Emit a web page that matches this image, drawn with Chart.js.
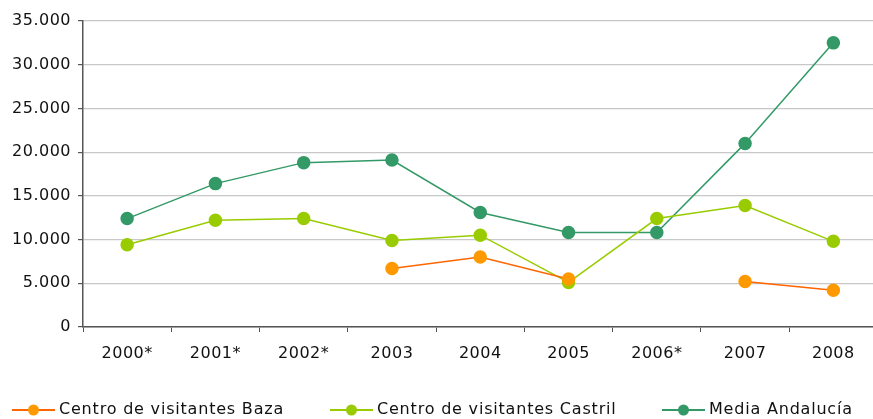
<!DOCTYPE html>
<html>
<head>
<meta charset="utf-8">
<script src="https://cdn.jsdelivr.net/npm/chart.js@4"></script>
<style>
  html, body { margin: 0; padding: 0; background: #fff; overflow: hidden; }
  #wrap { position: relative; width: 885px; height: 419px; }
</style>
</head>
<body>
<div id="wrap"><canvas id="graph"></canvas></div>
<script>
const years = ['2000*', '2001*', '2002*', '2003', '2004', '2005', '2006*', '2007', '2008'];
const baza = [null, null, null, 6700, 8000, 5500, null, 5200, 4200];
const castril = [9400, 12200, 12400, 9900, 10500, 5100, 12400, 13900, 9800];
const andalucia = [12400, 16400, 18800, 19100, 13100, 10800, 10800, 21000, 32500];
const yTicks = [0, 5000, 10000, 15000, 20000, 25000, 30000, 35000];

const fontFamily = '"DejaVu Sans", Verdana, sans-serif';
const font = { family: fontFamily, size: 16 };

function series(label, data, line, dot) {
    return {
        label: label,
        data: data,
        borderColor: line,
        backgroundColor: dot,
        pointBackgroundColor: dot,
        pointBorderColor: dot,
        pointRadius: 6,
        pointHoverRadius: 6,
        borderWidth: 1.5,
        spanGaps: false,
        tension: 0
    };
}

// a bit of tracking on all the text, like Verdana
const spacing = {
    id: 'spacing',
    beforeLayout(chart) { chart.ctx.letterSpacing = '0.5px'; },
    beforeDraw(chart) { chart.ctx.letterSpacing = '0.5px'; }
};

// legend along the bottom: short line with a dot, then the label
const legendX = [12, 330, 662];
const bottomLegend = {
    id: 'bottomLegend',
    afterDraw(chart) {
        const ctx = chart.ctx;
        const y = 410;
        ctx.save();
        ctx.font = '16px ' + fontFamily;
        ctx.letterSpacing = '0.8px';
        ctx.textBaseline = 'middle';
        chart.data.datasets.forEach((ds, i) => {
            const x = legendX[i];
            ctx.strokeStyle = ds.borderColor;
            ctx.lineWidth = 2;
            ctx.beginPath();
            ctx.moveTo(x, y);
            ctx.lineTo(x + 43, y);
            ctx.stroke();
            ctx.fillStyle = ds.pointBackgroundColor;
            ctx.beginPath();
            ctx.arc(x + 21.5, y, 5.5, 0, Math.PI * 2);
            ctx.fill();
            ctx.fillStyle = '#111';
            ctx.fillText(ds.label, x + 47, y);
        });
        ctx.restore();
    }
};

let myChart = new Chart(document.getElementById('graph'), {
    type: 'line',
    data: {
        labels: years,
        datasets: [
            series('Centro de visitantes Baza', baza, '#FF6600', '#FF9900'),
            series('Centro de visitantes Castril', castril, '#99CC00', '#99CC00'),
            series('Media Andalucía', andalucia, '#339966', '#339966')
        ]
    },
    plugins: [spacing, bottomLegend],
    options: {
        responsive: true,
        maintainAspectRatio: false,
        animation: false,
        layout: { padding: { left: 0, top: 21, right: 0, bottom: 0 } },
        scales: {
            x: {
                offset: true,
                grid: { display: true, drawOnChartArea: false, drawTicks: true, tickLength: 5, color: '#555', offset: true },
                border: { color: '#555', width: 1.5 },
                ticks: { color: '#111', font: font, padding: 12 },
                afterFit: (s) => { s.height = 92; }
            },
            y: {
                min: 0,
                max: 35000,
                afterBuildTicks: (s) => { s.ticks = yTicks.map(v => ({ value: v })); },
                afterFit: (s) => { s.width = 83; },
                grid: { color: '#C8C8C8', lineWidth: 1.2, tickLength: 5, tickColor: '#555' },
                border: { color: '#555', width: 1.5 },
                ticks: {
                    color: '#111',
                    font: font,
                    padding: 7,
                    callback: (v) => v.toLocaleString('de-DE')
                }
            }
        },
        plugins: {
            legend: { display: false },
            tooltip: { enabled: false }
        }
    }
});
</script>
</body>
</html>
